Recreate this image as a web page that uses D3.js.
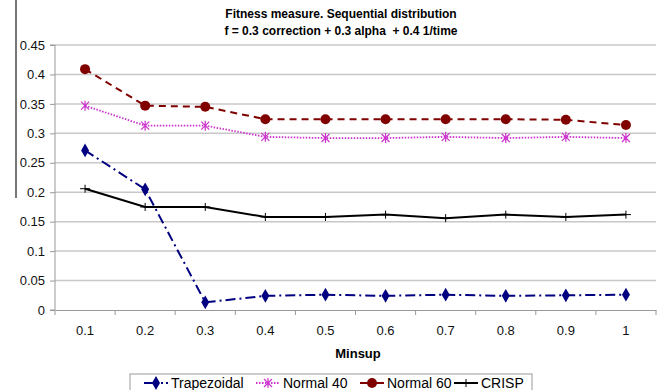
<!DOCTYPE html>
<html>
<head>
<meta charset="utf-8">
<script src="https://cdn.jsdelivr.net/npm/d3@7"></script>
<style>
  body { margin: 0; background: #fff; }
  svg { font-family: "Liberation Sans", Arial, sans-serif; }
  .grid line { stroke: #c8c8c8; stroke-width: 1.5; }
  .axis path, .axis line { stroke: #999; }
  .axis text { font-size: 13px; fill: #111; }
</style>
</head>
<body>
<div id="chart"></div>
<script>
// data
const minsup = ['0.1', '0.2', '0.3', '0.4', '0.5', '0.6', '0.7', '0.8', '0.9', '1'];
const trapezoidal = [0.271, 0.205, 0.013, 0.024, 0.026, 0.024, 0.026, 0.024, 0.025, 0.026];
const normal40 = [0.347, 0.313, 0.313, 0.294, 0.292, 0.292, 0.294, 0.292, 0.294, 0.292];
const normal60 = [0.409, 0.347, 0.345, 0.324, 0.324, 0.324, 0.324, 0.324, 0.323, 0.314];
const crisp = [0.206, 0.175, 0.175, 0.158, 0.158, 0.162, 0.156, 0.162, 0.158, 0.162];
const yTicks = [0, 0.05, 0.1, 0.15, 0.2, 0.25, 0.3, 0.35, 0.4, 0.45];
const seriesNames = ['Trapezoidal', 'Normal 40', 'Normal 60', 'CRISP'];

const W = 664, H = 390;
const margin = { top: 45, right: 8, bottom: 80, left: 55 };
const innerW = W - margin.left - margin.right;
const innerH = H - margin.top - margin.bottom;

const series = [
  { name: seriesNames[0], values: trapezoidal, color: '#000080', dash: '10,4,2,4', legDash: '14,3,2,3', marker: 'diamond' },
  { name: seriesNames[1], values: normal40, color: '#cc33cc', dash: '1.5,1.5', legDash: '1.5,1.5', marker: 'star' },
  { name: seriesNames[2], values: normal60, color: '#800000', dash: '7,5', legDash: null, marker: 'circle' },
  { name: seriesNames[3], values: crisp, color: '#000000', dash: null, legDash: null, marker: 'plus' }
];

const svg = d3.select('#chart').append('svg')
  .attr('width', W)
  .attr('height', H);

// stray frame edge at the left of the scan
svg.append('line')
  .attr('x1', 16).attr('x2', 16)
  .attr('y1', 0).attr('y2', 198)
  .attr('stroke', '#777').attr('stroke-width', 2);

const g = svg.append('g').attr('transform', `translate(${margin.left},${margin.top})`);

const x = d3.scaleBand().domain(minsup).range([0, innerW]);
const y = d3.scaleLinear().domain([0, 0.45]).range([innerH, 0]);

// horizontal grid
g.append('g')
  .attr('class', 'grid')
  .selectAll('line')
  .data(yTicks.slice(1))
  .join('line')
  .attr('x1', 0)
  .attr('x2', innerW)
  .attr('y1', d => y(d))
  .attr('y2', d => y(d));

// Y axis
const yAxis = g.append('g')
  .attr('class', 'axis')
  .call(d3.axisLeft(y).tickValues(yTicks).tickFormat(d => d3.format('')(+d.toFixed(2))).tickSize(5).tickPadding(5));
yAxis.select('.domain').attr('d', `M-5,0H0V${innerH}H-5`);

// X axis with ticks between categories
const xAxisG = g.append('g')
  .attr('class', 'axis')
  .attr('transform', `translate(0,${innerH})`)
  .call(d3.axisBottom(x).tickSizeOuter(0).tickSize(0).tickPadding(16));
xAxisG.selectAll('.bound')
  .data(d3.range(minsup.length + 1))
  .join('line')
  .attr('class', 'bound')
  .attr('x1', i => i * x.bandwidth())
  .attr('x2', i => i * x.bandwidth())
  .attr('y1', 0)
  .attr('y2', 5)
  .attr('stroke', '#999');

const cx = d => x(d) + x.bandwidth() / 2;

function drawMarker(sel, type, color) {
  if (type === 'circle') {
    sel.append('circle').attr('r', 5).attr('fill', color);
  } else if (type === 'diamond') {
    sel.append('path').attr('d', d3.symbol(d3.symbolDiamond, 55)()).attr('fill', color);
  } else if (type === 'star') {
    sel.append('path')
      .attr('d', 'M-4,-4L4,4M-4,4L4,-4M0,-5V5')
      .attr('stroke', color).attr('stroke-width', 1.2).attr('fill', 'none');
  } else if (type === 'plus') {
    sel.append('path')
      .attr('d', 'M-5,0H5M0,-4V4')
      .attr('stroke', color).attr('stroke-width', 1).attr('fill', 'none');
  }
}

const line = d3.line()
  .x((d, i) => cx(minsup[i]))
  .y(d => y(d));

for (const s of series) {
  const sg = g.append('g');
  sg.append('path')
    .attr('d', line(s.values))
    .attr('fill', 'none')
    .attr('stroke', s.color)
    .attr('stroke-width', s.marker === 'star' ? 1.8 : 2)
    .attr('stroke-dasharray', s.dash);
  sg.selectAll('.pt')
    .data(s.values)
    .join('g')
    .attr('class', 'pt')
    .attr('transform', (d, i) => `translate(${cx(minsup[i])},${y(d)})`)
    .each(function () { drawMarker(d3.select(this), s.marker, s.color); });
}

// title
svg.append('text')
  .attr('x', 341).attr('y', 18)
  .attr('text-anchor', 'middle')
  .attr('font-size', 12).attr('font-weight', 'bold')
  .text('Fitness measure. Sequential distribution');
svg.append('text')
  .attr('x', 341).attr('y', 35)
  .attr('text-anchor', 'middle')
  .attr('font-size', 12).attr('font-weight', 'bold')
  .style('white-space', 'pre')
  .text('f = 0.3 correction + 0.3 alpha  + 0.4 1/time');

// x axis title
svg.append('text')
  .attr('x', 358).attr('y', 358)
  .attr('text-anchor', 'middle')
  .attr('font-size', 13).attr('font-weight', 'bold')
  .text('Minsup');

// legend
const leg = svg.append('g').attr('transform', 'translate(130,374)');
leg.append('rect')
  .attr('width', 402).attr('height', 24)
  .attr('fill', '#fff').attr('stroke', '#999');
const legX = [14, 126, 230, 324];
series.forEach((s, i) => {
  const item = leg.append('g').attr('transform', `translate(${legX[i]},9)`);
  item.append('line')
    .attr('x1', 0).attr('x2', 24)
    .attr('stroke', s.color).attr('stroke-width', 2)
    .attr('stroke-dasharray', s.legDash);
  drawMarker(item.append('g').attr('transform', 'translate(12,0)'), s.marker, s.color);
  item.append('text')
    .attr('x', 27).attr('y', 5)
    .attr('font-size', 14)
    .text(s.name);
});
</script>
</body>
</html>
